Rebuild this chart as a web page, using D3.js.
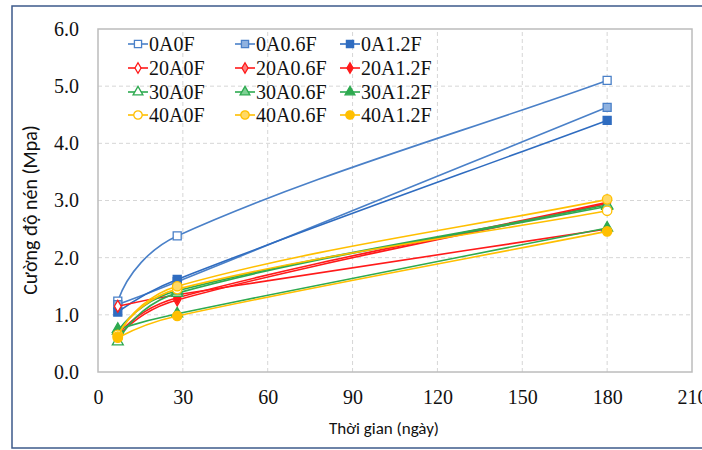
<!DOCTYPE html>
<html lang="vi">
<head>
<meta charset="UTF-8">
<script src="https://d3js.org/d3.v7.min.js"></script>
<title>Cường độ nén</title>
<style>
  body { margin: 0; background: #fff; }
</style>
</head>
<body>
<div id="chart"></div>
<script>
// ages (days) at which samples were tested
var days = [7, 28, 180];

var seriesNames = ["0A0F", "0A0.6F", "0A1.2F",
                   "20A0F", "20A0.6F", "20A1.2F",
                   "30A0F", "30A0.6F", "30A1.2F",
                   "40A0F", "40A0.6F", "40A1.2F"];

// compressive strength (MPa) per series, one value per day
var v0A0F    = [1.24, 2.38, 5.10];
var v0A06F   = [1.18, 1.58, 4.63];
var v0A12F   = [1.05, 1.62, 4.40];
var v20A0F   = [1.15, 1.35, 2.50];
var v20A06F  = [0.62, 1.26, 2.95];
var v20A12F  = [0.66, 1.30, 2.97];
var v30A0F   = [0.53, 1.38, 2.90];
var v30A06F  = [0.72, 1.42, 2.92];
var v30A12F  = [0.75, 1.02, 2.52];
var v40A0F   = [0.65, 1.45, 2.82];
var v40A06F  = [0.62, 1.50, 3.02];
var v40A12F  = [0.60, 0.98, 2.46];

var xTicks = [0, 30, 60, 90, 120, 150, 180, 210];
var yTicks = [0, 1, 2, 3, 4, 5, 6];

var allValues = [v0A0F, v0A06F, v0A12F, v20A0F, v20A06F, v20A12F,
                 v30A0F, v30A06F, v30A12F, v40A0F, v40A06F, v40A12F];

var serif = "'Liberation Serif', 'Times New Roman', serif";
var calibri = "Carlito, 'Liberation Sans', sans-serif";

var width = 702, height = 450;
var colors = ["#4a80c8", "#ff1a1a", "#2eaa50", "#ffbf00"];
var tints  = ["#8fb2e0", "#ff8080", "#7fd094", "#ffd966"];
var shapes = [d3.symbolSquare, d3.symbolDiamond, d3.symbolTriangle, d3.symbolCircle];
var sizes  = [64, 40, 52, 70];

var series = seriesNames.map(function (name, i) {
    var grp = Math.floor(i / 3), kind = i % 3;
    return {
        name: name,
        values: allValues[i],
        color: colors[grp],
        fill: kind == 0 ? "#fff" : (kind == 1 ? tints[grp] : colors[grp]),
        shape: shapes[grp],
        size: sizes[grp]
    };
});
// filled blue square is a bit darker
series[2].color = "#2f6cc0"; series[2].fill = "#2f6cc0";

var svg = d3.select("#chart").append("svg")
    .attr("width", width)
    .attr("height", height);

// outer frame
svg.append("rect")
    .attr("x", 12).attr("y", 6)
    .attr("width", 700).attr("height", 442)
    .attr("fill", "none")
    .attr("stroke", "#3d5a8a")
    .attr("stroke-width", 1.5);

var x = d3.scaleLinear().domain([0, 210]).range([98, 692]);
var y = d3.scaleLinear().domain([0, 6]).range([372, 29]);

// dashed grid
svg.append("g").selectAll("line")
    .data(yTicks.slice(1, -1))
    .enter().append("line")
    .attr("x1", x(0)).attr("x2", x(210))
    .attr("y1", d => y(d)).attr("y2", d => y(d))
    .attr("stroke", "#d6d6d6").attr("stroke-dasharray", "4,3");
svg.append("g").selectAll("line")
    .data(xTicks.slice(1, -1))
    .enter().append("line")
    .attr("y1", y(0)).attr("y2", y(6))
    .attr("x1", d => x(d)).attr("x2", d => x(d))
    .attr("stroke", "#d6d6d6").attr("stroke-dasharray", "4,3");

// plot area border
svg.append("rect")
    .attr("x", x(0)).attr("y", y(6))
    .attr("width", x(210) - x(0)).attr("height", y(0) - y(6))
    .attr("fill", "none")
    .attr("stroke", "#bcbcbc")
    .attr("stroke-width", 1.5);

// axes
svg.append("g")
    .attr("transform", "translate(" + x(0) + ",0)")
    .call(d3.axisLeft(y).tickValues(yTicks).tickSize(0).tickPadding(19).tickFormat(d3.format(".1f")))
    .attr("font-family", serif).attr("font-size", 20);
svg.append("g")
    .attr("transform", "translate(0," + y(0) + ")")
    .call(d3.axisBottom(x).tickValues(xTicks).tickSize(0).tickPadding(18))
    .attr("font-family", serif).attr("font-size", 20);
svg.selectAll(".domain").remove();
svg.selectAll(".tick text").attr("fill", "#111");

svg.append("text")
    .attr("x", 384).attr("y", 434)
    .attr("text-anchor", "middle")
    .attr("font-family", calibri)
    .attr("font-size", 17)
    .attr("fill", "#111")
    .text("Thời gian (ngày)");

svg.append("text")
    .attr("transform", "translate(37,210) rotate(-90)")
    .attr("text-anchor", "middle")
    .attr("font-family", calibri)
    .attr("font-size", 20)
    .attr("fill", "#111")
    .text("Cường độ nén (Mpa)");

// Excel-like smoothing: tangent along neighbours, handle length = chord / 3;
// start tangent mirrored about the first chord, end tangent along the last chord
function unit(dx, dy) {
    var l = Math.hypot(dx, dy) || 1;
    return [dx / l, dy / l];
}
function mirror(t, c) {
    var d = t[0] * c[0] + t[1] * c[1];
    return unit(2 * d * c[0] - t[0], 2 * d * c[1] - t[1]);
}
function smoothPath(vals) {
    var pts = vals.map((v, i) => [x(days[i]), y(v)]);
    var p = d3.path(), n = pts.length;
    p.moveTo(pts[0][0], pts[0][1]);
    for (var i = 0; i < n - 1; i++) {
        var a = pts[i], b = pts[i + 1];
        var c = unit(b[0] - a[0], b[1] - a[1]);
        var len = Math.hypot(b[0] - a[0], b[1] - a[1]) / 3;
        var t0 = i > 0 ? unit(b[0] - pts[i - 1][0], b[1] - pts[i - 1][1]) : null;
        var t1 = i + 2 < n ? unit(pts[i + 2][0] - a[0], pts[i + 2][1] - a[1]) : c;
        if (!t0) t0 = i + 2 < n ? mirror(t1, c) : c;
        p.bezierCurveTo(a[0] + t0[0] * len, a[1] + t0[1] * len,
                        b[0] - t1[0] * len, b[1] - t1[1] * len,
                        b[0], b[1]);
    }
    return p.toString();
}

var sg = svg.append("g").selectAll("g")
    .data(series)
    .enter().append("g");

sg.append("path")
    .attr("d", d => smoothPath(d.values))
    .attr("fill", "none")
    .attr("stroke", d => d.color)
    .attr("stroke-width", 1.6);

sg.each(function (s) {
    d3.select(this).selectAll("path.pt")
        .data(s.values)
        .enter().append("path")
        .attr("class", "pt")
        .attr("transform", (d, i) => "translate(" + x(days[i]) + "," + y(d) + ")")
        .attr("d", d3.symbol().type(s.shape).size(s.size))
        .attr("fill", s.fill)
        .attr("stroke", s.color)
        .attr("stroke-width", 1.3);
});

// legend
var colX = [128, 235, 340], rowY = [44, 68, 92, 115];
var leg = svg.append("g").selectAll("g")
    .data(series)
    .enter().append("g")
    .attr("transform", (d, i) => "translate(" + colX[i % 3] + "," + rowY[Math.floor(i / 3)] + ")");
leg.append("line")
    .attr("x1", 0).attr("x2", 20)
    .attr("stroke", d => d.color).attr("stroke-width", 1.6);
leg.append("path")
    .attr("transform", "translate(10,0)")
    .attr("d", d => d3.symbol().type(d.shape).size(d.size * 0.8)())
    .attr("fill", d => d.fill)
    .attr("stroke", d => d.color)
    .attr("stroke-width", 1.3);
leg.append("text")
    .attr("x", 21).attr("y", 0).attr("dy", "0.35em")
    .attr("font-family", serif)
    .attr("font-size", 20)
    .attr("fill", "#111")
    .text(d => d.name);
</script>
</body>
</html>
